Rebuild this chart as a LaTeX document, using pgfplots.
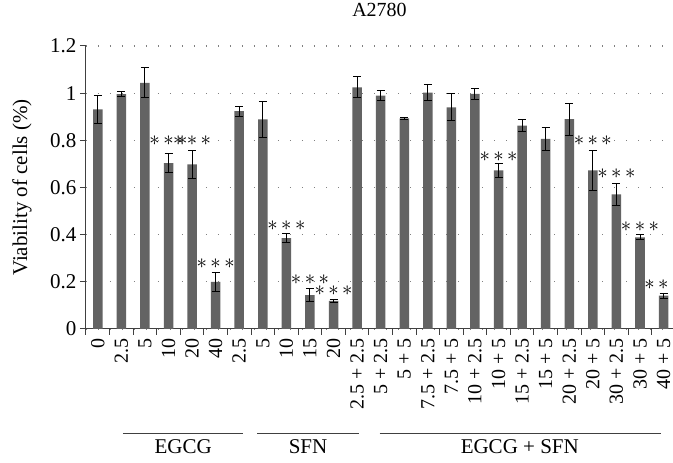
\documentclass[border=0pt]{standalone}
\usepackage{fontspec}
\setmainfont{Liberation Serif}
\usepackage{pgfplots}
\pgfplotsset{compat=1.18}
\definecolor{barg}{HTML}{636363}
\definecolor{axg}{HTML}{404040}
\newcommand{\st}{\mathord{\ast}}
\newcommand{\three}{$\st\,\st\,\st$}
\newcommand{\two}{$\st\,\st$}

\begin{document}
\begin{tikzpicture}[x=1pt,y=1pt]
\path[use as bounding box] (0,0) rectangle (673,463);
\begin{axis}[
  at={(86pt,134pt)}, anchor=south west,
  scale only axis, width=587pt, height=283pt,
  xmin=-0.5, xmax=24.4, ymin=0, ymax=1.2,
  axis x line*=bottom, axis y line*=left,
  axis line style={axg, line width=1pt},
  tick align=outside,
  xtick={0,...,24},
  xticklabels={0,2.5,5,10,20,40,2.5,5,10,15,20,2.5 + 2.5,5 + 2.5,5 + 5,7.5 + 2.5,7.5 + 5,10 + 2.5,10 + 5,15 + 2.5,15 + 5,20 + 2.5,20 + 5,30 + 2.5,30 + 5,40 + 5},
  major x tick style={draw=none},
  minor xtick={-0.5,0.5,...,23.5},
  minor x tick style={axg, line width=1pt},
  minor tick length=6pt,
  ytick={0,0.2,0.4,0.6,0.8,1,1.2},
  yticklabels={0,0.2,0.4,0.6,0.8,1,1.2},
  major y tick style={axg, line width=1pt},
  major tick length=6pt,
  xticklabel style={rotate=90, anchor=east, font=\fontsize{20}{20}\selectfont},
  yticklabel style={font=\fontsize{21}{21}\selectfont},
  ymajorgrids,
  grid style={gray, line width=1.2pt, dash pattern=on 1.2pt off 10.8pt},
  title={A2780},
  title style={at={(0.5,1)}, anchor=center, yshift=30pt, font=\fontsize{20}{20}\selectfont},
  ylabel={Viability of cells (\%)},
  ylabel style={at={(axis description cs:0,0.5)}, anchor=center, yshift=64pt,
    font=\fontsize{21}{21}\selectfont},
  clip=false,
]
\addplot[ybar, bar width=9.5pt, fill=barg, draw=none,
  error bars/.cd, y dir=both, y explicit,
  error bar style={black, line width=1pt},
  error mark options={rotate=90, black, mark size=4pt, line width=1pt}]
  table[x=x, y=y, y error=e] {
x y e
0 0.931 0.060
1 0.996 0.011
2 1.044 0.064
3 0.703 0.040
4 0.698 0.060
5 0.200 0.041
6 0.924 0.021
7 0.889 0.076
8 0.385 0.019
9 0.144 0.028
10 0.119 0.008
11 1.025 0.045
12 0.990 0.023
13 0.893 0.004
14 1.002 0.033
15 0.940 0.058
16 0.997 0.024
17 0.673 0.029
18 0.862 0.026
19 0.806 0.050
20 0.890 0.068
21 0.673 0.086
22 0.571 0.047
23 0.389 0.010
24 0.141 0.010
};
\addplot[only marks, mark=*, mark size=0pt, nodes near coords,
  point meta=explicit symbolic,
  nodes near coords style={anchor=center, inner sep=0pt, font=\fontsize{20}{20}\selectfont}]
  coordinates {
(3,0.80) [\three]
(4,0.80) [\three]
(5,0.278) [\three]
(8,0.44) [\three]
(9,0.21) [\three]
(10,0.161) [\three]
(17,0.73) [\three]
(21,0.80) [\three]
(22,0.657) [\three]
(23,0.434) [\three]
(23.7,0.187) [\two]
};
\draw[axg, line width=1pt] (axis cs:1.06,-0.441) -- (axis cs:6.17,-0.441);
\draw[axg, line width=1pt] (axis cs:6.77,-0.441) -- (axis cs:11.08,-0.441);
\draw[axg, line width=1pt] (axis cs:11.96,-0.441) -- (axis cs:23.9,-0.441);
\node[font=\fontsize{21}{21}\selectfont] at (axis cs:3.62,-0.50) {EGCG};
\node[font=\fontsize{21}{21}\selectfont] at (axis cs:8.92,-0.50) {SFN};
\node[font=\fontsize{21}{21}\selectfont] at (axis cs:17.9,-0.50) {EGCG + SFN};
\end{axis}
\end{tikzpicture}
\end{document}
